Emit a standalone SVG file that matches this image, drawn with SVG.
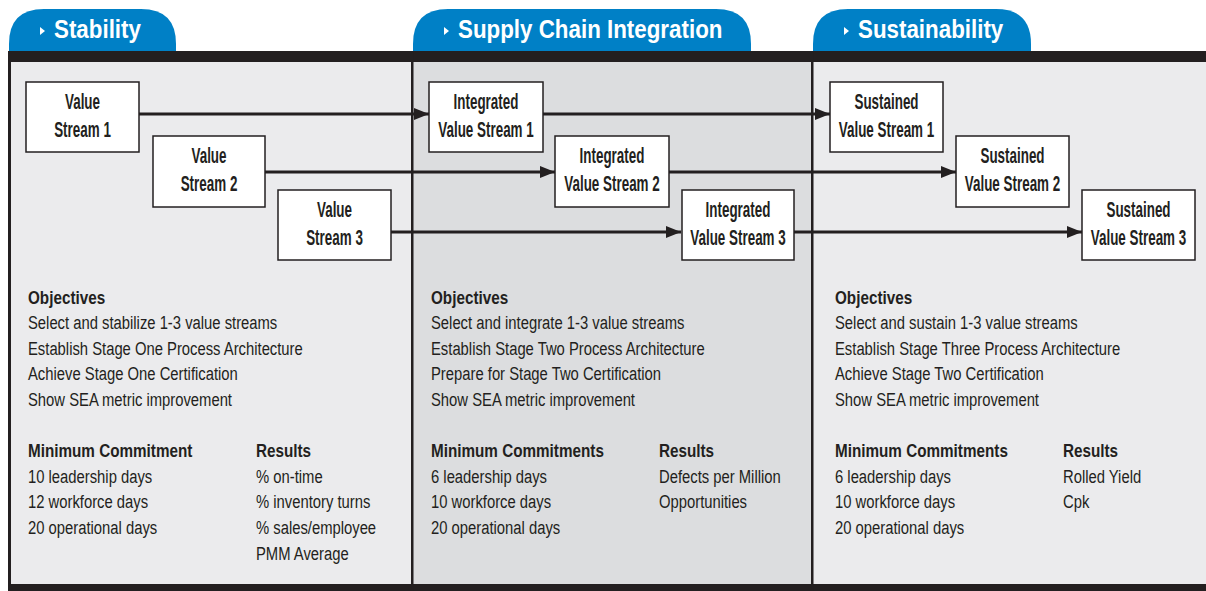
<svg xmlns="http://www.w3.org/2000/svg" width="1206" height="591" viewBox="0 0 1206 591">
  <style>
    .tab { fill: #0080C6; }
    .tabtxt { font-family: "Liberation Sans", Arial, sans-serif; font-weight: bold; font-size: 26px; fill: #ffffff; }
    .node rect { fill: #ffffff; stroke: #231F20; stroke-width: 1.5; }
    .node text { font-family: "Liberation Sans", Arial, sans-serif; font-weight: bold; font-size: 22px; fill: #231F20; text-anchor: middle; }
    .conn line { stroke: #231F20; stroke-width: 3; marker-end: url(#head); }
    .body { font-family: "Liberation Sans", Arial, sans-serif; font-size: 19px; fill: #231F20; }
    .hd { font-weight: bold; }
    .rule { fill: #231F20; }
  </style>
  <defs>
    <marker id="head" markerUnits="userSpaceOnUse" markerWidth="16" markerHeight="12" refX="15" refY="6" orient="auto">
      <path d="M0,0 L15,6 L0,12 Z" fill="#231F20"/>
    </marker>
  </defs>

  <rect width="1206" height="591" fill="#ffffff"/>

  <!-- stage tabs (condensed type via horizontal scale) -->
  <g id="tab-stability">
    <path class="tab" d="M9,52 V44 Q9,9 44,9 H141 Q176,9 176,44 V52 Z"/>
    <path d="M40,27 L45,31 L40,35 Z" fill="#ffffff"/>
    <text class="tabtxt" transform="translate(54 38) scale(0.86 1)">Stability</text>
  </g>
  <g id="tab-integration">
    <path class="tab" d="M413,52 V44 Q413,9 448,9 H716 Q751,9 751,44 V52 Z"/>
    <path d="M444,27 L449,31 L444,35 Z" fill="#ffffff"/>
    <text class="tabtxt" transform="translate(458 38) scale(0.86 1)">Supply Chain Integration</text>
  </g>
  <g id="tab-sustainability">
    <path class="tab" d="M813,52 V44 Q813,9 848,9 H996 Q1031,9 1031,44 V52 Z"/>
    <path d="M844,27 L849,31 L844,35 Z" fill="#ffffff"/>
    <text class="tabtxt" transform="translate(858 38) scale(0.86 1)">Sustainability</text>
  </g>

  <!-- stage panels -->
  <rect x="8" y="52" width="1198" height="539" fill="#EBEBED"/>
  <rect x="412" y="62" width="400" height="522" fill="#DCDDDF"/>
  <rect class="rule" x="8" y="51" width="1198" height="11"/>
  <rect class="rule" x="8" y="584" width="1198" height="7"/>
  <rect class="rule" x="8" y="51" width="3" height="540"/>
  <rect class="rule" x="411" y="51" width="2.5" height="540"/>
  <rect class="rule" x="811" y="51" width="2.5" height="540"/>

  <!-- connectors -->
  <g id="connectors" class="conn">
    <line x1="139" y1="114" x2="429" y2="114"/>
    <line x1="543" y1="114" x2="830" y2="114"/>
    <line x1="265" y1="172" x2="555" y2="172"/>
    <line x1="669" y1="172" x2="956" y2="172"/>
    <line x1="391" y1="232" x2="681" y2="232"/>
    <line x1="794" y1="232" x2="1082" y2="232"/>
  </g>

  <!-- value stream nodes -->
  <g id="vs1" class="node">
    <rect x="26" y="82" width="113" height="70"/>
    <g transform="translate(82.5 0) scale(0.61 1)">
      <text x="0" y="109">Value</text>
      <text x="0" y="137">Stream 1</text>
    </g>
  </g>
  <g id="vs2" class="node">
    <rect x="153" y="136" width="112" height="71"/>
    <g transform="translate(209 0) scale(0.61 1)">
      <text x="0" y="163">Value</text>
      <text x="0" y="191">Stream 2</text>
    </g>
  </g>
  <g id="vs3" class="node">
    <rect x="278" y="190" width="113" height="70"/>
    <g transform="translate(334.5 0) scale(0.61 1)">
      <text x="0" y="217">Value</text>
      <text x="0" y="245">Stream 3</text>
    </g>
  </g>
  <g id="ivs1" class="node">
    <rect x="429" y="82" width="114" height="70"/>
    <g transform="translate(486 0) scale(0.61 1)">
      <text x="0" y="109">Integrated</text>
      <text x="0" y="137">Value Stream 1</text>
    </g>
  </g>
  <g id="ivs2" class="node">
    <rect x="555" y="136" width="114" height="71"/>
    <g transform="translate(612 0) scale(0.61 1)">
      <text x="0" y="163">Integrated</text>
      <text x="0" y="191">Value Stream 2</text>
    </g>
  </g>
  <g id="ivs3" class="node">
    <rect x="682" y="190" width="112" height="70"/>
    <g transform="translate(738 0) scale(0.61 1)">
      <text x="0" y="217">Integrated</text>
      <text x="0" y="245">Value Stream 3</text>
    </g>
  </g>
  <g id="svs1" class="node">
    <rect x="830" y="82" width="113" height="70"/>
    <g transform="translate(886.5 0) scale(0.61 1)">
      <text x="0" y="109">Sustained</text>
      <text x="0" y="137">Value Stream 1</text>
    </g>
  </g>
  <g id="svs2" class="node">
    <rect x="956" y="136" width="113" height="71"/>
    <g transform="translate(1012.5 0) scale(0.61 1)">
      <text x="0" y="163">Sustained</text>
      <text x="0" y="191">Value Stream 2</text>
    </g>
  </g>
  <g id="svs3" class="node">
    <rect x="1082" y="190" width="113" height="70"/>
    <g transform="translate(1138.5 0) scale(0.61 1)">
      <text x="0" y="217">Sustained</text>
      <text x="0" y="245">Value Stream 3</text>
    </g>
  </g>

  <!-- stage one text -->
  <g id="stability-text" class="body" transform="translate(28 0) scale(0.78 1)">
    <text class="hd" transform="scale(1.03 1)" x="0" y="304">Objectives</text>
    <text x="0" y="329">Select and stabilize 1-3 value streams</text>
    <text x="0" y="355">Establish Stage One Process Architecture</text>
    <text x="0" y="380">Achieve Stage One Certification</text>
    <text x="0" y="406">Show SEA metric improvement</text>
    <text class="hd" transform="scale(1.03 1)" x="0" y="457">Minimum Commitment</text>
    <text x="0" y="483">10 leadership days</text>
    <text x="0" y="508">12 workforce days</text>
    <text x="0" y="534">20 operational days</text>
    <text class="hd" transform="translate(292.3 0) scale(1.03 1)" x="0" y="457">Results</text>
    <text x="292.3" y="483">% on-time</text>
    <text x="292.3" y="508">% inventory turns</text>
    <text x="292.3" y="534">% sales/employee</text>
    <text x="292.3" y="560">PMM Average</text>
  </g>

  <!-- stage two text -->
  <g id="integration-text" class="body" transform="translate(431 0) scale(0.78 1)">
    <text class="hd" transform="scale(1.03 1)" x="0" y="304">Objectives</text>
    <text x="0" y="329">Select and integrate 1-3 value streams</text>
    <text x="0" y="355">Establish Stage Two Process Architecture</text>
    <text x="0" y="380">Prepare for Stage Two Certification</text>
    <text x="0" y="406">Show SEA metric improvement</text>
    <text class="hd" transform="scale(1.03 1)" x="0" y="457">Minimum Commitments</text>
    <text x="0" y="483">6 leadership days</text>
    <text x="0" y="508">10 workforce days</text>
    <text x="0" y="534">20 operational days</text>
    <text class="hd" transform="translate(292.3 0) scale(1.03 1)" x="0" y="457">Results</text>
    <text x="292.3" y="483">Defects per Million</text>
    <text x="292.3" y="508">Opportunities</text>
  </g>

  <!-- stage three text -->
  <g id="sustainability-text" class="body" transform="translate(835 0) scale(0.78 1)">
    <text class="hd" transform="scale(1.03 1)" x="0" y="304">Objectives</text>
    <text x="0" y="329">Select and sustain 1-3 value streams</text>
    <text x="0" y="355">Establish Stage Three Process Architecture</text>
    <text x="0" y="380">Achieve Stage Two Certification</text>
    <text x="0" y="406">Show SEA metric improvement</text>
    <text class="hd" transform="scale(1.03 1)" x="0" y="457">Minimum Commitments</text>
    <text x="0" y="483">6 leadership days</text>
    <text x="0" y="508">10 workforce days</text>
    <text x="0" y="534">20 operational days</text>
    <text class="hd" transform="translate(292.3 0) scale(1.03 1)" x="0" y="457">Results</text>
    <text x="292.3" y="483">Rolled Yield</text>
    <text x="292.3" y="508">Cpk</text>
  </g>
</svg>
